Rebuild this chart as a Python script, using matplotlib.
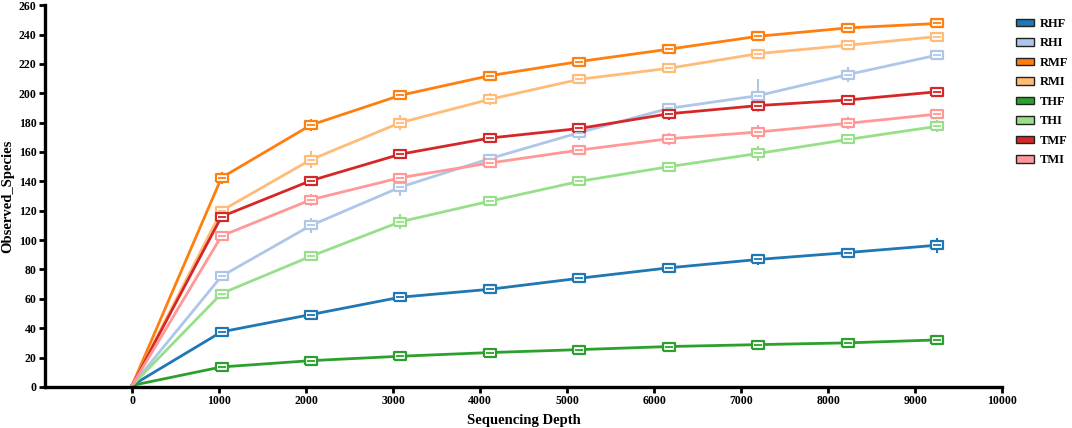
import numpy as np
import matplotlib
matplotlib.use("Agg")
import matplotlib.pyplot as plt
from matplotlib.patches import Patch

# ── Data ───────────────────────────────────────────────────────────────────
depth = [0, 1028, 2056, 3084, 4112, 5140, 6168, 7196, 8224, 9252]

groups = ["RHF", "RHI", "RMF", "RMI", "THF", "THI", "TMF", "TMI"]
colors = ["#1f77b4", "#aec7e8", "#ff7f0e", "#ffbb78",
          "#2ca02c", "#98df8a", "#d62728", "#ff9896"]

RHF = [1, 37.5, 49.3, 61.1, 66.5, 74.0, 81.1, 86.8, 91.5, 96.5]
RHI = [1, 75.4, 110.0, 136.1, 155.5, 173.2, 189.7, 198.4, 212.7, 226.0]
RMF = [1, 142.5, 178.4, 198.6, 212.0, 221.6, 230.0, 238.8, 244.5, 247.5]
RMI = [1, 120.0, 154.8, 180.0, 195.9, 209.5, 217.0, 227.0, 232.7, 238.6]
THF = [1, 13.6, 17.9, 20.9, 23.4, 25.4, 27.5, 28.8, 30.0, 32.0]
THI = [1, 63.6, 89.0, 112.5, 126.5, 140.0, 150.0, 159.0, 168.5, 177.5]
TMF = [1, 116.0, 140.5, 158.5, 169.5, 176.0, 186.0, 191.6, 195.4, 201.0]
TMI = [1, 102.8, 127.5, 142.5, 152.5, 161.3, 169.0, 173.6, 179.5, 185.8]

# whisker half-lengths
RHF_err = [0, 2, 2, 1.5, 3, 1.5, 2.5, 4, 3, 5]
RHI_err = [0, 3, 5, 6, 3, 5, 3, 11, 5, 3]
RMF_err = [0, 4, 4, 3, 3, 3, 2, 3, 2, 1.5]
RMI_err = [0, 3, 6, 5, 4, 2, 2, 3, 3, 3]
THF_err = [0, 1, 1, 1, 1, 1, 2, 1, 1, 1.5]
THI_err = [0, 2, 2, 5, 2, 2, 3, 5, 3, 4]
TMF_err = [0, 2, 2, 2, 2, 2, 4, 3, 3, 3]
TMI_err = [0, 2, 4, 3, 3, 2, 4, 5, 4, 3]

series = [RHF, RHI, RMF, RMI, THF, THI, TMF, TMI]
errors = [RHF_err, RHI_err, RMF_err, RMI_err, THF_err, THI_err, TMF_err, TMI_err]

# ── Figure ─────────────────────────────────────────────────────────────────
plt.rcParams["font.family"] = ["Liberation Serif", "DejaVu Serif"]
plt.rcParams["font.weight"] = "bold"

fig = plt.figure(figsize=(10.72, 4.28), dpi=100)
ax = fig.add_axes([0.042, 0.096, 0.893, 0.892])

box = [(-1.5, -1), (1.5, -1), (1.5, 1), (-1.5, 1), (-1.5, -1)]

for name, y, e, c in zip(groups, series, errors, colors):
    ax.plot(depth, y, color=c, lw=2, zorder=2)
    ax.errorbar(depth[1:], y[1:], yerr=e[1:], fmt="none", ecolor=c,
                elinewidth=1.5, capsize=0, zorder=3)
    ax.plot(depth[1:], y[1:], ls="none", marker=box, ms=8, mfc="white",
            mec=c, mew=1.6, zorder=4)
    ax.plot(depth[1:], y[1:], ls="none", marker="_", ms=6, mec=c,
            mew=1.3, zorder=5)

ax.set_xlim(-1000, 10000)
ax.set_ylim(0, 260)
ax.set_xticks(range(0, 10001, 1000))
ax.set_yticks(range(0, 261, 20))
for s in ["top", "right"]:
    ax.spines[s].set_visible(False)
for s in ["left", "bottom"]:
    ax.spines[s].set_linewidth(2.4)
ax.tick_params(width=2, length=4, labelsize=8.5, pad=2)
for lab in ax.get_xticklabels() + ax.get_yticklabels():
    lab.set_fontweight("bold")

ax.set_xlabel("Sequencing Depth", fontsize=10.5, fontweight="bold", labelpad=5)
ax.set_ylabel("Observed_Species", fontsize=10.5, fontweight="bold", labelpad=3)

handles = [Patch(facecolor=c, edgecolor="#222222", lw=1) for c in colors]
fig.legend(handles, groups, loc="upper left", bbox_to_anchor=(0.948, 0.958),
           frameon=False, prop={"size": 9, "weight": "bold"},
           handlelength=1.4, handleheight=0.5, labelspacing=0.6,
           handletextpad=0.5, borderaxespad=0, borderpad=0)

fig.savefig("out.png", dpi=100)
